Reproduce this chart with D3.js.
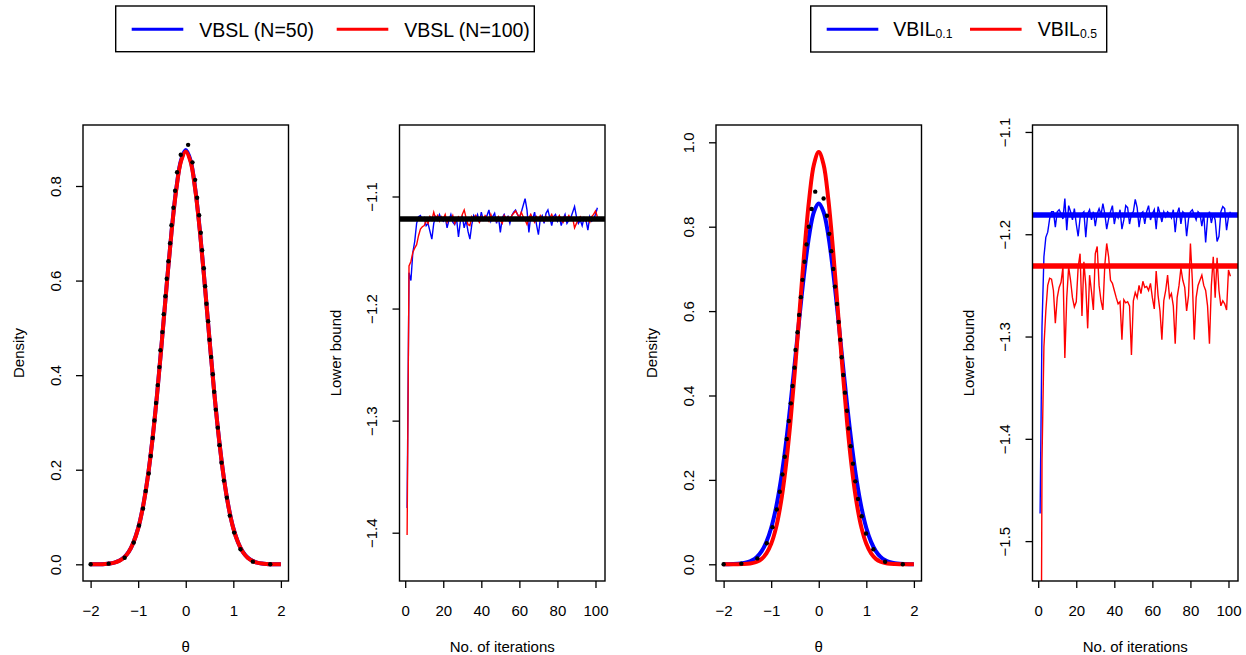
<!DOCTYPE html>
<html><head><meta charset="utf-8">
<script src="https://cdn.jsdelivr.net/npm/d3@7"></script>
<style>
body{margin:0;background:#fff}
svg{display:block}
text{font-family:"Liberation Sans",Arial,Helvetica,sans-serif;fill:#000}
</style>
</head><body>
<svg id="chart" width="1246" height="655"></svg>
<script>
// ---------- data ----------
const thetaGrid = [-2.0,-1.9,-1.8,-1.7,-1.6,-1.5,-1.4,-1.3,-1.2,-1.1,-1.0,-0.9,-0.8,-0.7,-0.6,-0.5,-0.4,-0.3,-0.2,-0.1,0.0,0.1,0.2,0.3,0.4,0.5,0.6,0.7,0.8,0.9,1.0,1.1,1.2,1.3,1.4,1.5,1.6,1.7,1.8,1.9,2.0];
const p1Blue = [0.0000,0.0001,0.0003,0.0008,0.0018,0.0037,0.0075,0.0143,0.0263,0.0463,0.0765,0.1215,0.1835,0.2645,0.3625,0.4745,0.5918,0.7025,0.7935,0.8545,0.8760,0.8545,0.7935,0.7025,0.5918,0.4745,0.3625,0.2645,0.1835,0.1215,0.0765,0.0463,0.0263,0.0143,0.0075,0.0037,0.0018,0.0008,0.0003,0.0001,0.0000];
const p1Red = [0.0000,0.0001,0.0003,0.0008,0.0017,0.0036,0.0073,0.0140,0.0260,0.0460,0.0760,0.1210,0.1830,0.2640,0.3620,0.4740,0.5910,0.7010,0.7920,0.8520,0.8730,0.8520,0.7920,0.7010,0.5910,0.4740,0.3620,0.2640,0.1830,0.1210,0.0760,0.0460,0.0260,0.0140,0.0073,0.0036,0.0017,0.0008,0.0003,0.0001,0.0000];
const p1DotX = [-2.0,-1.621,-1.284,-1.094,-0.982,-0.898,-0.842,-0.778,-0.736,-0.694,-0.659,-0.624,-0.589,-0.554,-0.533,-0.491,-0.463,-0.428,-0.400,-0.365,-0.329,-0.301,-0.259,-0.224,-0.182,-0.105,0.050,0.141,0.197,0.239,0.281,0.316,0.344,0.380,0.408,0.436,0.471,0.499,0.534,0.569,0.597,0.632,0.674,0.709,0.751,0.801,0.864,0.926,1.018,1.151,1.411,1.776];
const p1DotY = [0.0,0.0014,0.014,0.046,0.082,0.118,0.155,0.192,0.229,0.267,0.304,0.341,0.379,0.417,0.4526,0.491,0.529,0.567,0.604,0.641,0.679,0.717,0.754,0.790,0.829,0.866,0.887,0.850,0.813,0.775,0.738,0.701,0.664,0.626,0.588,0.551,0.514,0.475,0.4386,0.402,0.365,0.327,0.289,0.252,0.215,0.177,0.141,0.103,0.067,0.032,0.0056,0.0];

const p3Blue = [0.0001,0.0002,0.0005,0.0011,0.0024,0.0049,0.0095,0.0176,0.0313,0.0531,0.0860,0.1331,0.1966,0.2775,0.3740,0.4815,0.5921,0.6953,0.7800,0.8356,0.8550,0.8356,0.7800,0.6953,0.5921,0.4815,0.3740,0.2775,0.1966,0.1331,0.0860,0.0531,0.0313,0.0176,0.0095,0.0049,0.0024,0.0011,0.0005,0.0002,0.0001];
const p3Red = [0.0000,0.0000,0.0001,0.0002,0.0005,0.0011,0.0027,0.0061,0.0129,0.0258,0.0485,0.0857,0.1429,0.2242,0.3313,0.4611,0.6042,0.7456,0.8664,0.9481,0.9770,0.9481,0.8664,0.7456,0.6042,0.4611,0.3313,0.2242,0.1429,0.0857,0.0485,0.0258,0.0129,0.0061,0.0027,0.0011,0.0005,0.0002,0.0001,0.0000,0.0000];
const p3DotX = [-2.0,-1.627,-1.290,-1.093,-0.974,-0.882,-0.819,-0.763,-0.714,-0.672,-0.629,-0.587,-0.552,-0.510,-0.489,-0.447,-0.412,-0.376,-0.341,-0.299,-0.257,-0.208,-0.151,-0.074,0.102,0.172,0.221,0.263,0.305,0.341,0.383,0.418,0.453,0.481,0.516,0.551,0.594,0.629,0.671,0.720,0.769,0.825,0.903,0.994,1.149,1.395,1.767];
const p3DotY = [0.0,0.0015,0.014,0.050,0.088,0.130,0.172,0.213,0.255,0.297,0.3396,0.3814,0.4225,0.466,0.508,0.550,0.591,0.633,0.674,0.717,0.758,0.800,0.842,0.883,0.867,0.826,0.783,0.742,0.700,0.658,0.617,0.574,0.532,0.4905,0.4486,0.4067,0.364,0.322,0.280,0.2385,0.1966,0.155,0.114,0.073,0.0355,0.006,0.0];

const p2Blue = [-1.378,-1.168,-1.175,-1.150,-1.140,-1.124,-1.118,-1.117,-1.121,-1.119,-1.126,-1.124,-1.131,-1.138,-1.124,-1.118,-1.121,-1.116,-1.120,-1.122,-1.118,-1.128,-1.121,-1.116,-1.123,-1.125,-1.120,-1.136,-1.122,-1.118,-1.128,-1.121,-1.131,-1.138,-1.125,-1.117,-1.120,-1.116,-1.123,-1.114,-1.121,-1.119,-1.117,-1.112,-1.122,-1.118,-1.115,-1.124,-1.118,-1.132,-1.119,-1.116,-1.121,-1.118,-1.124,-1.117,-1.114,-1.112,-1.116,-1.119,-1.114,-1.108,-1.102,-1.112,-1.132,-1.117,-1.120,-1.114,-1.125,-1.134,-1.120,-1.117,-1.124,-1.115,-1.112,-1.119,-1.126,-1.118,-1.116,-1.122,-1.118,-1.126,-1.120,-1.116,-1.124,-1.121,-1.119,-1.114,-1.109,-1.118,-1.124,-1.121,-1.126,-1.119,-1.121,-1.130,-1.118,-1.122,-1.120,-1.116,-1.110];
const p2Red = [-1.402,-1.162,-1.158,-1.150,-1.146,-1.143,-1.135,-1.129,-1.127,-1.126,-1.121,-1.124,-1.118,-1.121,-1.114,-1.120,-1.117,-1.122,-1.118,-1.120,-1.116,-1.123,-1.119,-1.121,-1.117,-1.124,-1.120,-1.118,-1.121,-1.116,-1.112,-1.119,-1.125,-1.126,-1.118,-1.121,-1.117,-1.120,-1.123,-1.118,-1.121,-1.117,-1.119,-1.122,-1.116,-1.121,-1.119,-1.122,-1.118,-1.121,-1.124,-1.117,-1.120,-1.118,-1.121,-1.117,-1.115,-1.113,-1.116,-1.119,-1.114,-1.118,-1.121,-1.125,-1.119,-1.116,-1.120,-1.123,-1.118,-1.121,-1.117,-1.120,-1.122,-1.118,-1.121,-1.119,-1.116,-1.121,-1.118,-1.120,-1.117,-1.121,-1.123,-1.118,-1.120,-1.117,-1.121,-1.119,-1.128,-1.124,-1.120,-1.118,-1.121,-1.119,-1.122,-1.120,-1.123,-1.118,-1.116,-1.113,-1.118];
const p2Ref = -1.1201;

const p4Blue = [-1.473,-1.290,-1.222,-1.203,-1.198,-1.185,-1.178,-1.178,-1.193,-1.178,-1.176,-1.180,-1.185,-1.165,-1.196,-1.172,-1.178,-1.186,-1.175,-1.190,-1.202,-1.184,-1.180,-1.178,-1.203,-1.180,-1.176,-1.186,-1.178,-1.192,-1.180,-1.175,-1.181,-1.170,-1.180,-1.195,-1.185,-1.178,-1.172,-1.190,-1.180,-1.184,-1.176,-1.195,-1.186,-1.172,-1.174,-1.190,-1.180,-1.178,-1.166,-1.174,-1.193,-1.180,-1.178,-1.190,-1.178,-1.172,-1.186,-1.180,-1.176,-1.195,-1.173,-1.180,-1.188,-1.178,-1.183,-1.178,-1.180,-1.184,-1.176,-1.198,-1.180,-1.174,-1.190,-1.178,-1.180,-1.202,-1.185,-1.178,-1.176,-1.181,-1.186,-1.178,-1.180,-1.192,-1.180,-1.208,-1.184,-1.178,-1.189,-1.180,-1.186,-1.207,-1.202,-1.178,-1.173,-1.175,-1.196,-1.183,-1.178];
const p4Red = [-1.900,-1.420,-1.310,-1.275,-1.250,-1.243,-1.244,-1.255,-1.287,-1.262,-1.252,-1.247,-1.232,-1.321,-1.262,-1.232,-1.245,-1.262,-1.271,-1.266,-1.232,-1.219,-1.280,-1.227,-1.250,-1.292,-1.240,-1.256,-1.274,-1.219,-1.212,-1.250,-1.265,-1.274,-1.230,-1.209,-1.222,-1.245,-1.248,-1.255,-1.262,-1.268,-1.266,-1.303,-1.264,-1.267,-1.266,-1.270,-1.318,-1.265,-1.257,-1.262,-1.250,-1.258,-1.246,-1.252,-1.251,-1.255,-1.248,-1.262,-1.273,-1.236,-1.260,-1.275,-1.303,-1.265,-1.255,-1.240,-1.262,-1.258,-1.270,-1.307,-1.262,-1.250,-1.233,-1.245,-1.252,-1.275,-1.260,-1.209,-1.245,-1.303,-1.262,-1.250,-1.245,-1.240,-1.250,-1.255,-1.270,-1.307,-1.250,-1.222,-1.262,-1.223,-1.255,-1.270,-1.265,-1.268,-1.274,-1.235,-1.241];
const p4RefBlue = -1.1811;
const p4RefRed = -1.231;

const thetaTicks = [-2,-1,0,1,2];
const iterTicks = [0,20,40,60,80,100];
const p1YTicks = [0,0.2,0.4,0.6,0.8];
const p2YTicks = [-1.4,-1.3,-1.2,-1.1];
const p3YTicks = [0,0.2,0.4,0.6,0.8,1.0];
const p4YTicks = [-1.5,-1.4,-1.3,-1.2,-1.1];

// ---------- layout ----------
const svg = d3.select("#chart");
const TOP = 125, BOT = 581, PW = 205.5;
const lefts = [83, 399.5, 716, 1032.5];
const BLUE = "#0000ff", RED = "#ff0000";
const iters = d3.range(1, p2Blue.length + 1);

function panel(i, xDom, yDom, xTicks, yTicks, xFmt, yFmt, xTitle, yTitle) {
  const L = lefts[i];
  const x = d3.scaleLinear().domain(xDom).range([L, L + PW]);
  const y = d3.scaleLinear().domain(yDom).range([BOT, TOP]);
  const g = svg.append("g");
  const cid = "clip" + i;
  svg.append("clipPath").attr("id", cid).append("rect")
    .attr("x", L).attr("y", TOP).attr("width", PW).attr("height", BOT - TOP);
  const plot = g.append("g").attr("clip-path", `url(#${cid})`);
  // axes
  const ax = g.append("g").attr("transform", `translate(0,${BOT})`)
    .call(d3.axisBottom(x).tickValues(xTicks).tickFormat(xFmt).tickSize(7).tickSizeOuter(0));
  ax.select(".domain").remove();
  ax.selectAll(".tick line").attr("stroke", "#000").attr("stroke-width", 1.3);
  ax.selectAll(".tick text").attr("y", 35).attr("dy", 0).attr("font-size", 15)
    .attr("font-family", '"Liberation Sans",Arial,sans-serif');
  const ay = g.append("g").attr("transform", `translate(${L},0)`)
    .call(d3.axisLeft(y).tickValues(yTicks).tickFormat(yFmt).tickSize(7).tickSizeOuter(0));
  ay.select(".domain").remove();
  ay.selectAll(".tick line").attr("stroke", "#000").attr("stroke-width", 1.3);
  ay.selectAll(".tick text").attr("transform", "rotate(-90)").attr("x", 0).attr("y", -22.5)
    .attr("dy", 0).attr("text-anchor", "middle").attr("font-size", 15)
    .attr("font-family", '"Liberation Sans",Arial,sans-serif');
  // box
  g.append("rect").attr("x", L).attr("y", TOP).attr("width", PW).attr("height", BOT - TOP)
    .attr("fill", "none").attr("stroke", "#000").attr("stroke-width", 1.4);
  // titles
  g.append("text").attr("x", L + PW / 2).attr("y", BOT + 71).attr("text-anchor", "middle")
    .attr("font-size", 15).text(xTitle);
  g.append("text").attr("transform", `translate(${L - 59},${(TOP + BOT) / 2}) rotate(-90)`)
    .attr("text-anchor", "middle").attr("font-size", 15).text(yTitle);
  return {x, y, plot};
}

const f1 = d3.format(".1f"), fd = d3.format("d");

function densityPanel(i, yDom, yTicks, blue, red, dx, dy) {
  const {x, y, plot} = panel(i, [-2.16, 2.16], yDom, thetaTicks, yTicks, fd, f1, "θ", "Density");
  const line = d3.line().x((d, k) => x(thetaGrid[k])).y(d => y(d)).curve(d3.curveCatmullRom);
  plot.append("path").datum(blue).attr("d", line).attr("fill", "none").attr("stroke", BLUE).attr("stroke-width", 4);
  plot.append("path").datum(red).attr("d", line).attr("fill", "none").attr("stroke", RED).attr("stroke-width", 4);
  plot.selectAll("circle.dot").data(dx).enter().append("circle")
    .attr("cx", d => x(d)).attr("cy", (d, k) => y(dy[k])).attr("r", 2.2).attr("fill", "#000");
}

function iterPanel(i, yDom, yTicks, blue, red, refs) {
  const {x, y, plot} = panel(i, [-3, 105], yDom, iterTicks, yTicks, fd, f1, "No. of iterations", "Lower bound");
  const line = d3.line().x((d, k) => x(iters[k])).y(d => y(d));
  plot.append("path").datum(blue).attr("d", line).attr("fill", "none").attr("stroke", BLUE).attr("stroke-width", 1.4);
  plot.append("path").datum(red).attr("d", line).attr("fill", "none").attr("stroke", RED).attr("stroke-width", 1.4);
  refs.forEach(r => {
    plot.append("line").attr("x1", x(-3)).attr("x2", x(105)).attr("y1", y(r.v)).attr("y2", y(r.v))
      .attr("stroke", r.c).attr("stroke-width", 5.5);
  });
}

densityPanel(0, [-0.0353, 0.929], p1YTicks, p1Blue, p1Red, p1DotX, p1DotY);
iterPanel(1, [-1.4431, -1.0362], p2YTicks, p2Blue, p2Red, [{v: p2Ref, c: "#000"}]);
densityPanel(2, [-0.0396, 1.041], p3YTicks, p3Blue, p3Red, p3DotX, p3DotY);
iterPanel(3, [-1.539, -1.0932], p4YTicks, p4Blue, p4Red, [{v: p4RefBlue, c: BLUE}, {v: p4RefRed, c: RED}]);

// ---------- legends ----------
const lg1 = svg.append("g");
lg1.append("rect").attr("x", 115.7).attr("y", 6).attr("width", 418.6).attr("height", 45.7)
  .attr("fill", "#fff").attr("stroke", "#000").attr("stroke-width", 1.4);
[[131.7, BLUE, "VBSL (N=50)", 199.3], [336.7, RED, "VBSL (N=100)", 404.3]].forEach(([lx, c, t, tx]) => {
  lg1.append("line").attr("x1", lx).attr("x2", lx + 51.6).attr("y1", 29.3).attr("y2", 29.3)
    .attr("stroke", c).attr("stroke-width", 3);
  lg1.append("text").attr("x", tx).attr("y", 37.3).attr("font-size", 19.5).text(t);
});
const lg2 = svg.append("g");
lg2.append("rect").attr("x", 810.7).attr("y", 6).attr("width", 296).attr("height", 46)
  .attr("fill", "#fff").attr("stroke", "#000").attr("stroke-width", 1.4);
[[826.7, BLUE, "0.1", 893.3], [970, RED, "0.5", 1037.7]].forEach(([lx, c, s, tx]) => {
  lg2.append("line").attr("x1", lx).attr("x2", lx + 51.6).attr("y1", 29.3).attr("y2", 29.3)
    .attr("stroke", c).attr("stroke-width", 3);
  const t = lg2.append("text").attr("x", tx).attr("y", 35.7).attr("font-size", 19.5);
  t.append("tspan").text("VBIL");
  t.append("tspan").attr("font-size", 12.2).attr("dy", 2).text(s);
});
</script>
</body></html>
